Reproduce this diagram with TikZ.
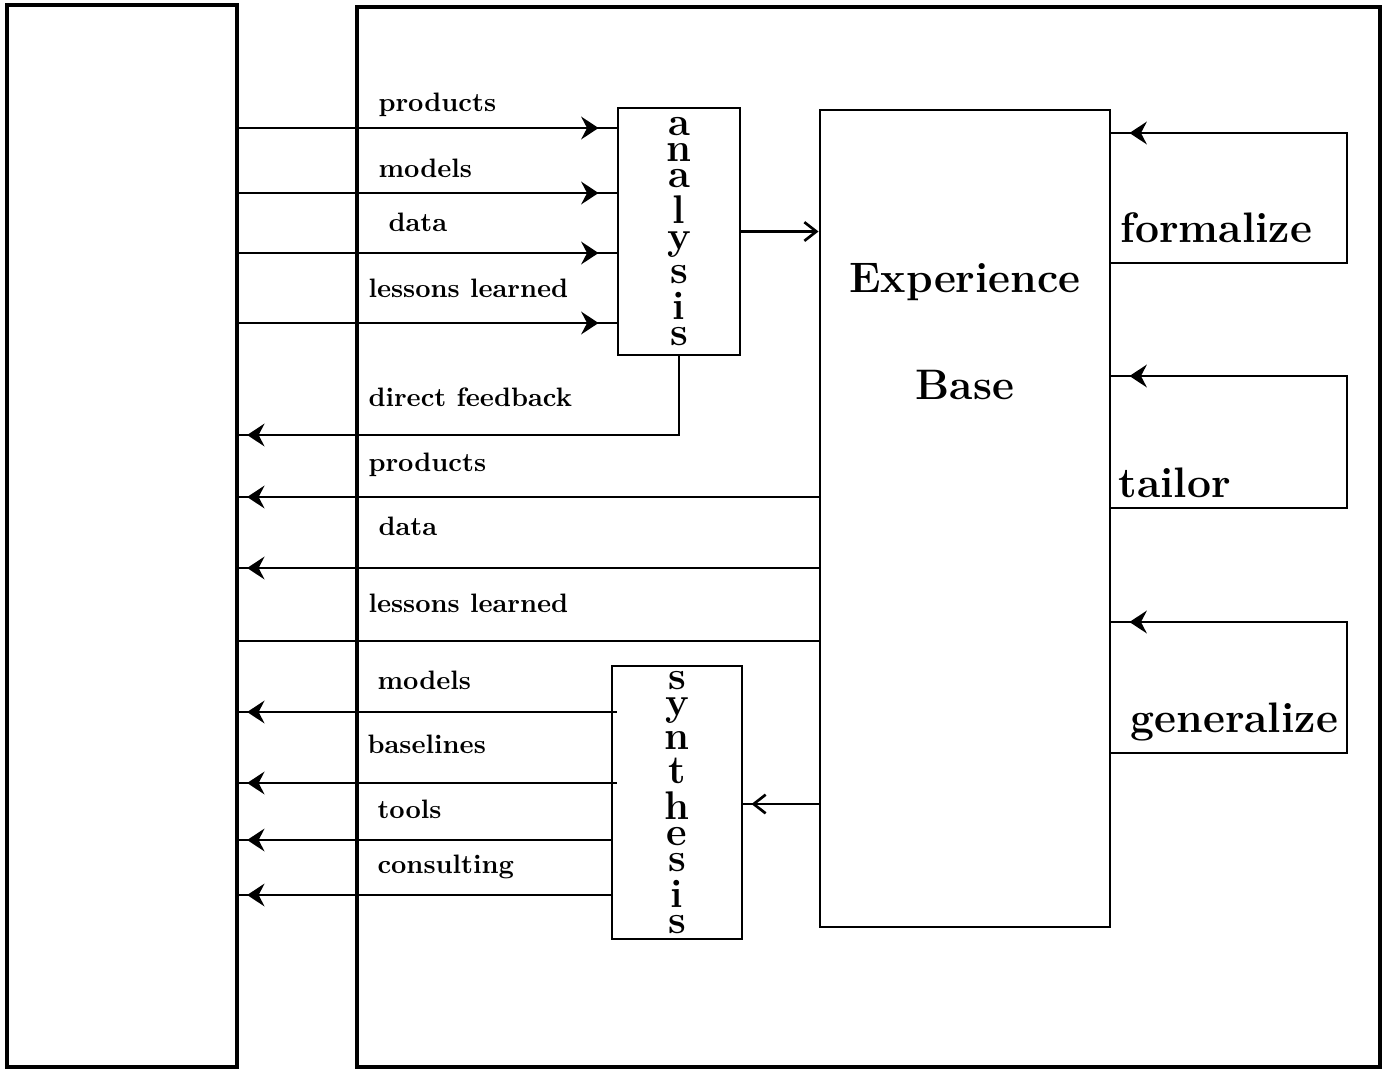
\documentclass[tikz,border=0pt]{standalone}
\usepackage{tikz}
\usetikzlibrary{arrows.meta,decorations.markings}

\newcommand{\unitpx}{0.375pt}

\tikzset{
  frame/.style={draw, line width=1.6pt, inner sep=0pt},
  block/.style={draw, line width=1.1pt, inner sep=0pt},
  flow/.style={line width=1pt},
  flowtext/.style={anchor=base west, inner sep=0pt, font=\fontsize{10}{12}\selectfont\bfseries},
  bigtext/.style={inner sep=0pt, font=\fontsize{16}{19}\selectfont\bfseries},
  stacktext/.style={font=\fontsize{15}{18}\selectfont\bfseries},
  headat/.style={postaction={decorate}, decoration={markings,
      mark=at position #1 with {\arrow{Stealth[length=6.5pt,width=8.5pt,inset=2.2pt]}}}},
  openat/.style={postaction={decorate}, decoration={markings,
      mark=at position #1 with {\arrow{Straight Barb[length=4.5pt,width=7pt]}}}}
}

\begin{document}
\begin{tikzpicture}[x=\unitpx, y=-\unitpx]
\useasboundingbox (0, 0) rectangle (1384, 1069);

\node[frame, minimum width=230*\unitpx, minimum height=1062*\unitpx] (env) at (122, 536) {};
\node[frame, minimum width=1023*\unitpx, minimum height=1060*\unitpx] (org) at (868.5, 537) {};

\node[block, stacktext, minimum width=122*\unitpx, minimum height=247*\unitpx] (ana) at (679, 231.5) {\shortstack{a\\n\\a\\l\\y\\s\\i\\s}};
\node[block, minimum width=290*\unitpx, minimum height=817*\unitpx] (exp) at (965, 518.5) {};
\node[block, stacktext, minimum width=130*\unitpx, minimum height=273*\unitpx] (syn) at (677, 802.5) {\shortstack{s\\y\\n\\t\\h\\e\\s\\i\\s}};

\node[bigtext, anchor=base] (expword) at (965, 292) {Experience};
\node[bigtext, anchor=base] (baseword) at (965, 399) {Base};

% into analysis
\draw[flow, headat=-6.75pt] (env.east |- 0,128) -- (ana.west |- 0,128);
\draw[flow, headat=-6.75pt] (env.east |- 0,193) -- (ana.west |- 0,193);
\draw[flow, headat=-6.75pt] (env.east |- 0,253) -- (ana.west |- 0,253);
\draw[flow, headat=-6.75pt] (env.east |- 0,323) -- (ana.west |- 0,323);
\node[flowtext] (tproducts) at (378, 111) {products};
\node[flowtext] (tmodels) at (378, 177) {models};
\node[flowtext] (tdata) at (388, 231) {data};
\node[flowtext] (tlessons) at (368, 297) {lessons learned};

\draw[flow, -{Straight Barb[length=4.5pt,width=7pt]}] (ana.east) -- (exp.west |- ana.east);

\draw[flow, headat=-3pt] (ana.south) |- (env.east |- 0,435);
\node[flowtext] (tfeedback) at (368, 406) {direct feedback};

% out of the experience base
\draw[flow, headat=-3pt] (exp.west |- 0,497) -- (env.east |- 0,497);
\draw[flow, headat=-3pt] (exp.west |- 0,568) -- (env.east |- 0,568);
\draw[flow] (exp.west |- 0,641) -- (env.east |- 0,641);
\node[flowtext] (tproducts2) at (368, 471) {products};
\node[flowtext] (tdata2) at (378, 535) {data};
\node[flowtext] (tlessons2) at (368, 612) {lessons learned};

\draw[flow, openat=-3pt] (exp.west |- 0,804) -- (syn.east |- 0,804);

% out of synthesis
\draw[flow, headat=-3pt] ([xshift=6*\unitpx]syn.west |- 0,712) -- (env.east |- 0,712);
\draw[flow, headat=-3pt] ([xshift=6*\unitpx]syn.west |- 0,783) -- (env.east |- 0,783);
\draw[flow, headat=-3pt] (syn.west |- 0,840) -- (env.east |- 0,840);
\draw[flow, headat=-3pt] (syn.west |- 0,895) -- (env.east |- 0,895);
\node[flowtext] (tmodels2) at (377, 689) {models};
\node[flowtext] (tbaselines) at (367, 753) {baselines};
\node[flowtext] (ttools) at (377, 818) {tools};
\node[flowtext] (tconsulting) at (377, 873) {consulting};

% feedback loops on the experience base
\coordinate (fcorner) at (1347, 133);
\coordinate (tcorner) at (1347, 376);
\coordinate (gcorner) at (1347, 622);
\draw[flow, headat=-6.75pt] (exp.east |- 0,263) -| (fcorner) -- (exp.east |- fcorner);
\draw[flow, headat=-6.75pt] (exp.east |- 0,508) -| (tcorner) -- (exp.east |- tcorner);
\draw[flow, headat=-6.75pt] (exp.east |- 0,753) -| (gcorner) -- (exp.east |- gcorner);
\node[bigtext, anchor=base west] (formalize) at (1120, 242) {formalize};
\node[bigtext, anchor=base west] (tailor) at (1118, 497) {tailor};
\node[bigtext, anchor=base west] (generalize) at (1130, 732) {generalize};

\end{tikzpicture}
\end{document}
